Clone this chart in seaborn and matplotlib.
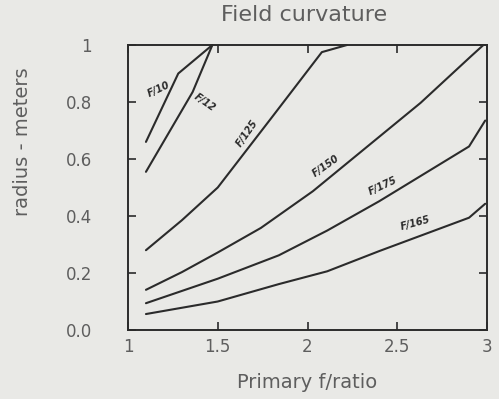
import matplotlib
matplotlib.use("Agg")
import matplotlib.pyplot as plt
import numpy as np
import pandas as pd
import seaborn as sns

# Curve labels (final focal ratio)
curve_names = ["F/10", "F/12", "F/125", "F/150", "F/175", "F/165"]

# Primary f/ratio vs. field-curvature radius (meters) for each curve
f_ratio_10 = [1.10, 1.28, 1.47]
radius_10 = [0.66, 0.90, 1.00]

f_ratio_12 = [1.10, 1.36, 1.47]
radius_12 = [0.555, 0.835, 1.00]

f_ratio_125 = [1.10, 1.30, 1.50, 1.80, 2.08, 2.22]
radius_125 = [0.28, 0.385, 0.50, 0.745, 0.975, 1.00]

f_ratio_150 = [1.10, 1.30, 1.50, 1.74, 2.03, 2.63, 2.91, 2.98]
radius_150 = [0.141, 0.203, 0.272, 0.358, 0.487, 0.797, 0.96, 1.00]

f_ratio_175 = [1.10, 1.50, 1.84, 2.11, 2.40, 2.90, 2.99]
radius_175 = [0.094, 0.18, 0.262, 0.349, 0.452, 0.644, 0.735]

f_ratio_165 = [1.10, 1.50, 1.84, 2.11, 2.40, 2.90, 2.99]
radius_165 = [0.056, 0.10, 0.161, 0.206, 0.277, 0.394, 0.443]

x_ticks = [1, 1.5, 2, 2.5, 3]
x_tick_labels = ["1", "1.5", "2", "2.5", "3"]
y_ticks = [0.0, 0.2, 0.4, 0.6, 0.8, 1.0]
y_tick_labels = ["0.0", "0.2", "0.4", "0.6", "0.8", "1"]

series_x = [f_ratio_10, f_ratio_12, f_ratio_125, f_ratio_150, f_ratio_175, f_ratio_165]
series_y = [radius_10, radius_12, radius_125, radius_150, radius_175, radius_165]

frames = []
for name, xs, ys in zip(curve_names, series_x, series_y):
    frames.append(pd.DataFrame({"f_ratio": xs, "radius": ys, "curve": name}))
df = pd.concat(frames, ignore_index=True)

# In-plot label placement (x, y, rotation) for each curve
label_pos = {
    "F/10": (1.17, 0.845, 25),
    "F/12": (1.425, 0.80, -35),
    "F/125": (1.665, 0.69, 55),
    "F/150": (2.10, 0.575, 35),
    "F/175": (2.42, 0.505, 25),
    "F/165": (2.60, 0.375, 15),
}

bg = "#e9e9e6"
ink = "#2b2b2b"
text_grey = "#5e5e5e"

sns.set_theme(style="ticks")
plt.rcParams["font.family"] = ["DejaVu Sans"]

fig = plt.figure(figsize=(4.99, 3.99), dpi=100, facecolor=bg)
ax = fig.add_axes([128 / 499, 1 - 330 / 399, (487 - 128) / 499, (330 - 45) / 399])
ax.set_facecolor(bg)

sns.lineplot(
    data=df, x="f_ratio", y="radius", hue="curve", units="curve",
    estimator=None, sort=False, palette={n: ink for n in curve_names},
    linewidth=1.5, legend=False, ax=ax,
)
for line in ax.get_lines():
    line.set_clip_on(False)

for name in curve_names:
    x, y, rot = label_pos[name]
    ax.text(x, y, name, fontsize=7, fontstyle="italic", fontweight="bold",
            color=ink, rotation=rot, ha="center", va="center")

ax.set_xlim(1, 3)
ax.set_ylim(0, 1)
ax.set_xticks(x_ticks)
ax.set_xticklabels(x_tick_labels)
ax.set_yticks(y_ticks)
ax.set_yticklabels(y_tick_labels)

ax.tick_params(axis="both", direction="in", length=6, width=1.2, color=ink,
               labelcolor=text_grey, labelsize=12, top=True, right=True)
ax.tick_params(axis="x", pad=6)
ax.tick_params(axis="y", pad=26)

for spine in ax.spines.values():
    spine.set_color(ink)
    spine.set_linewidth(1.4)

ax.set_xlabel("Primary f/ratio", fontsize=14, color=text_grey)
ax.set_ylabel("radius - meters", fontsize=14, color=text_grey)
ax.xaxis.set_label_coords(0.50, -0.15)
ax.yaxis.set_label_coords(-0.267, 0.66)

ax.text(0.49, 1.105, "Field curvature", transform=ax.transAxes,
        fontsize=16, color=text_grey, ha="center", va="center")

fig.savefig("out.png", dpi=100, facecolor=bg)
